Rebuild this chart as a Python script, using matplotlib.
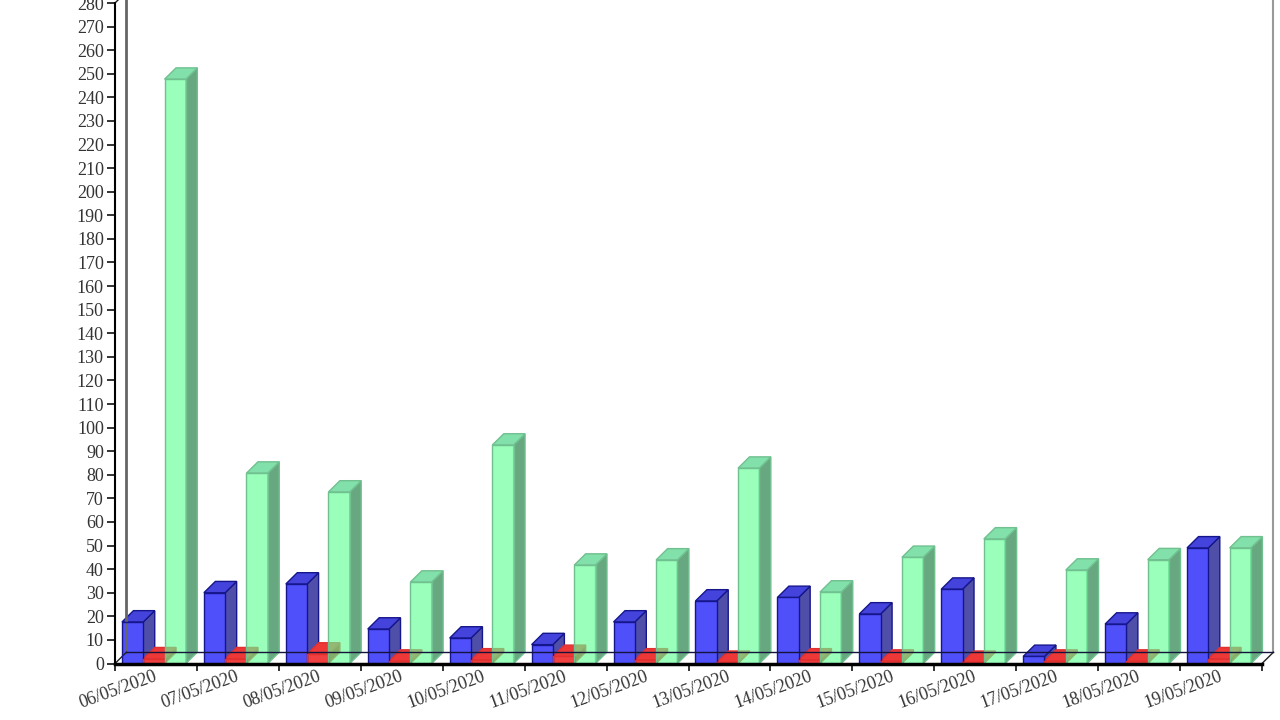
import matplotlib
matplotlib.use("Agg")
import matplotlib.pyplot as plt

# -----------------------------
# Data
# -----------------------------
DATES = ["06/05/2020", "07/05/2020", "08/05/2020", "09/05/2020", "10/05/2020",
         "11/05/2020", "12/05/2020", "13/05/2020", "14/05/2020", "15/05/2020",
         "16/05/2020", "17/05/2020", "18/05/2020", "19/05/2020"]
BLUE = [17.6, 30, 33.7, 14.6, 10.8, 8, 17.6, 26.5, 28, 21, 31.5, 3, 16.7, 49]
RED = [2, 2, 4, 1, 1.5, 3, 1.5, 0.5, 1.5, 1, 0.5, 1, 1, 2]
GREEN = [247.7, 80.7, 72.7, 34.5, 92.6, 41.7, 43.9, 82.8, 30.3, 45, 52.8, 39.6, 44, 49]
Y_TICKS = list(range(0, 290, 10))

# -----------------------------
# Configuration
# -----------------------------
BAR_WIDTH = 0.26
BAR_START = 0.085
DEPTH_X = 0.14   # depth offset in group units
DEPTH_Y = 4.8    # depth offset in value units

BLUE_COLORS = dict(front="#5050FA", side="#4F4FAA", top="#4444DD", edge="#16168C")
RED_COLORS = dict(front="#F04040", side="#C81818", top="#EE3838", edge="#E03030")
GREEN_COLORS = dict(front="#62FF96", side="#68A880", top="#82E0AA", edge="#70C090")


def draw_bar(ax, left, value, colors, front_alpha=1.0):
    right = left + BAR_WIDTH
    common = dict(clip_on=False, linewidth=1, edgecolor=colors["edge"])
    # side, top, then the front face
    ax.fill([right, right + DEPTH_X, right + DEPTH_X, right],
            [0, DEPTH_Y, value + DEPTH_Y, value], facecolor=colors["side"], **common)
    ax.fill([left, right, right + DEPTH_X, left + DEPTH_X],
            [value, value, value + DEPTH_Y, value + DEPTH_Y], facecolor=colors["top"], **common)
    ax.fill([left, right, right, left], [0, 0, value, value],
            facecolor=colors["front"], alpha=front_alpha, clip_on=False, linewidth=0)
    ax.plot([left, right, right, left, left], [0, 0, value, value, 0],
            color=colors["edge"], linewidth=1, clip_on=False)


def main():
    fig = plt.figure(figsize=(12.8, 7.2), dpi=100)
    ax = fig.add_axes([115 / 1280, (720 - 663.5) / 720, 1147 / 1280, 660.5 / 720])
    n = len(DATES)
    ax.set_xlim(0, n)
    ax.set_ylim(0, 280)

    # back wall edges
    ax.plot([DEPTH_X, DEPTH_X], [DEPTH_Y, 285], color="#666666", linewidth=2, clip_on=False)
    ax.plot([n + DEPTH_X, n + DEPTH_X], [DEPTH_Y, 285], color="#999999", linewidth=1.5, clip_on=False)
    ax.plot([n, n + DEPTH_X], [0, DEPTH_Y], color="#222222", linewidth=1, clip_on=False)
    ax.plot([0, DEPTH_X], [0, DEPTH_Y], color="#222222", linewidth=1, clip_on=False)
    ax.plot([0, DEPTH_X], [280, 280 + DEPTH_Y], color="#222222", linewidth=1, clip_on=False)

    for i in range(n):
        left = i + BAR_START
        draw_bar(ax, left, BLUE[i], BLUE_COLORS)
        draw_bar(ax, left + BAR_WIDTH, RED[i], RED_COLORS)
        draw_bar(ax, left + 2 * BAR_WIDTH, GREEN[i], GREEN_COLORS, front_alpha=0.65)

    # back floor line shows through the bars
    ax.plot([DEPTH_X, n + DEPTH_X], [DEPTH_Y, DEPTH_Y], color="#14143C", linewidth=1, clip_on=False)

    for side in ["top", "right"]:
        ax.spines[side].set_visible(False)
    ax.spines["left"].set_linewidth(1.5)
    ax.spines["bottom"].set_linewidth(2.5)
    ax.patch.set_visible(False)

    ax.set_yticks(Y_TICKS)
    ax.set_yticklabels([str(v) for v in Y_TICKS])
    ax.set_xticks(range(n + 1))
    ax.set_xticklabels([])
    ax.set_xticks([i + 0.47 for i in range(n)], minor=True)
    ax.set_xticklabels(DATES, minor=True, rotation=20, ha="right", rotation_mode="anchor")
    ax.tick_params(axis="x", which="major", length=5, width=1.2, color="#111111")
    ax.tick_params(axis="x", which="minor", length=0, pad=3)
    ax.tick_params(axis="y", length=6, width=1.2, color="#111111", pad=2)
    for label in ax.get_yticklabels() + ax.get_xticklabels(minor=True):
        label.set_fontfamily("Liberation Serif")
        label.set_fontsize(13)
        label.set_color("#333333")

    fig.savefig("out.png", dpi=100, facecolor="white")
    plt.close(fig)


if __name__ == "__main__":
    main()
